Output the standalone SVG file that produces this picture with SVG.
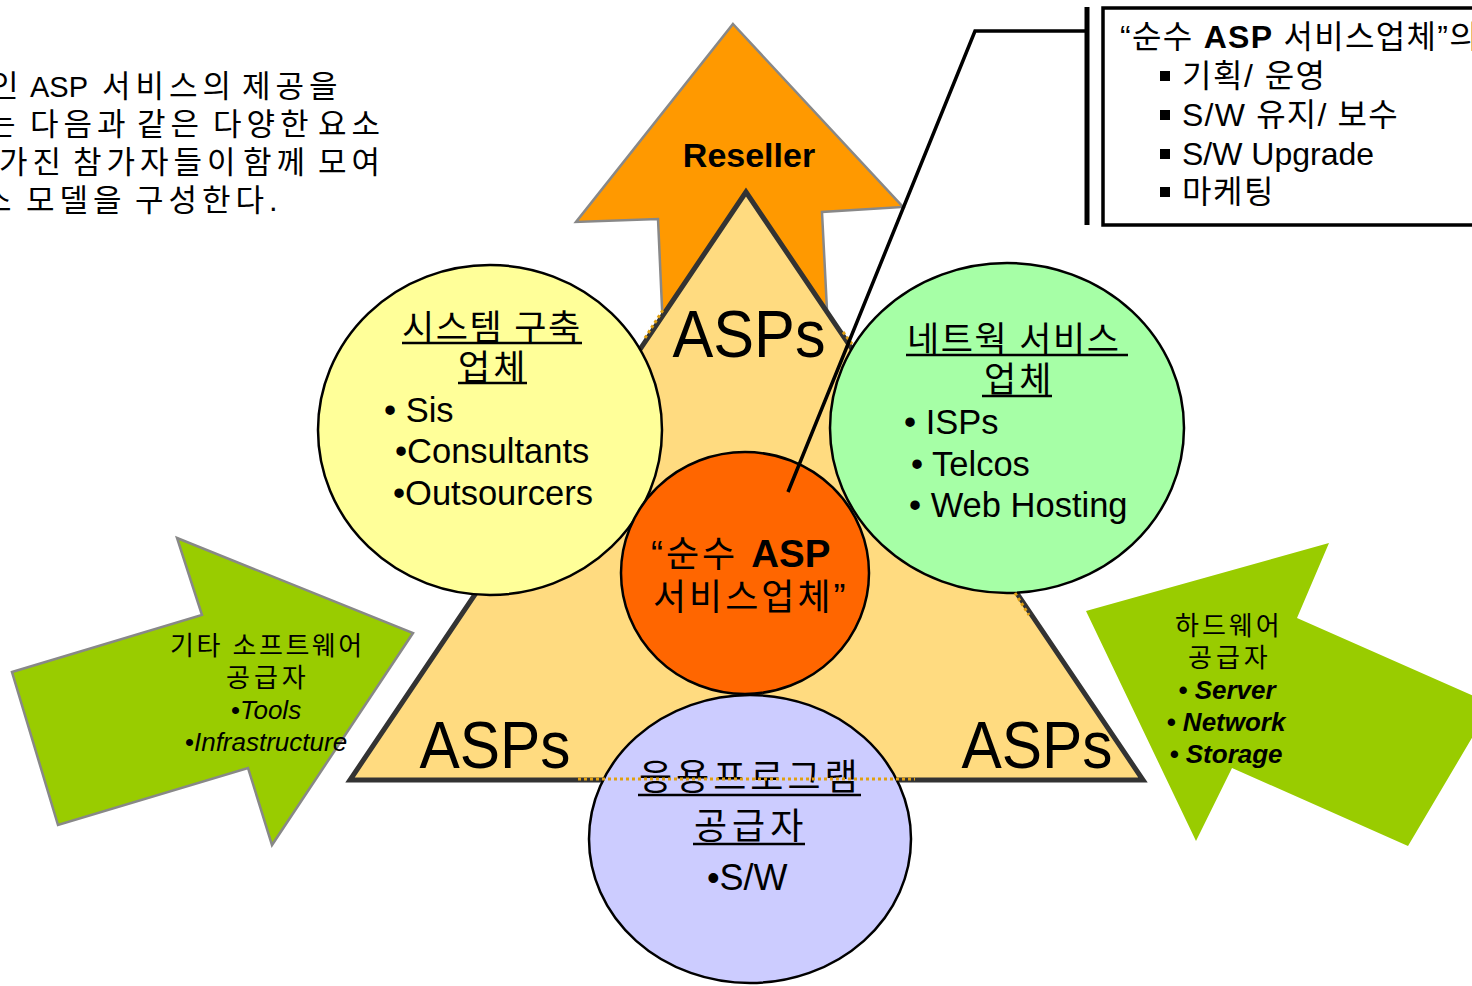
<svg xmlns="http://www.w3.org/2000/svg" width="1472" height="986" viewBox="0 0 1472 986">
<defs>
<style>
.k{font-family:"Liberation Sans","Noto Sans CJK KR",sans-serif;fill:#000}
.h{font-size:31px;letter-spacing:5px}
.circ{stroke:#000;stroke-width:2.5}
.garrow{fill:#99CC00}
.ul{stroke:#000;stroke-width:2.5}
.dot{fill:none;stroke:#E0A010;stroke-width:3;stroke-dasharray:3 3}
</style>
</defs>
<rect width="1472" height="986" fill="#fff"/>

<g id="intro-text" class="k" font-size="29" fill="#222">
<text y="97"><tspan class="h" x="-10">인</tspan><tspan x="30">ASP</tspan><tspan class="h" x="102">서비스의</tspan><tspan class="h" x="242">제공을</tspan></text>
<text y="135"><tspan class="h" x="-13">는</tspan><tspan class="h" x="30">다음과</tspan><tspan class="h" x="137">같은</tspan><tspan class="h" x="213">다양한</tspan><tspan class="h" x="318">요소</tspan></text>
<text y="173"><tspan class="h" x="-1">가진</tspan><tspan class="h" x="73">참가자들이</tspan><tspan class="h" x="243">함께</tspan><tspan class="h" x="318">모여</tspan></text>
<text y="211"><tspan class="h" x="-17">스</tspan><tspan class="h" x="26">모델을</tspan><tspan class="h" x="135">구성한다.</tspan></text>
</g>

<g id="reseller">
<polygon points="733,24 903,207 822,212 828,330 663,330 658,219 576,222" fill="#FF9900" stroke="#888" stroke-width="2.5" stroke-linejoin="miter"/>
<text class="k" x="749" y="167" font-size="34" font-weight="bold" text-anchor="middle">Reseller</text>
</g>

<g id="left-arrow">
<polygon class="garrow" points="12,672 202,615 177,538 413,633 272,845 248,768 58,825" stroke="#888" stroke-width="2.5"/>
<g class="k" font-size="26">
<text x="170" y="655" letter-spacing="2.5">기타 소프트웨어</text>
<text x="226" y="687" letter-spacing="4">공급자</text>
<text x="266" y="719" font-style="italic" text-anchor="middle">•Tools</text>
<text x="266" y="751" font-style="italic" text-anchor="middle">•Infrastructure</text>
</g>
</g>

<g id="right-arrow">
<polygon class="garrow" points="1086,611 1329,543 1297,618 1492,704 1408,846 1232,768 1196,841"/>
<g class="k" font-size="26">
<text x="1175" y="635" letter-spacing="3">하드웨어</text>
<text x="1188" y="667" letter-spacing="4">공급자</text>
<text x="1227" y="699" font-weight="bold" font-style="italic" text-anchor="middle">• Server</text>
<text x="1226" y="731" font-weight="bold" font-style="italic" text-anchor="middle">• Network</text>
<text x="1226" y="763" font-weight="bold" font-style="italic" text-anchor="middle">• Storage</text>
</g>
</g>

<g id="triangle">
<polygon points="746,192 350,780 1143,780" fill="#FFDB80" stroke="#333" stroke-width="5" stroke-linejoin="miter"/>
<g class="k" font-size="66">
<text x="749" y="357" text-anchor="middle" textLength="153" lengthAdjust="spacingAndGlyphs">ASPs</text>
<text x="495" y="768" text-anchor="middle" textLength="151" lengthAdjust="spacingAndGlyphs">ASPs</text>
<text x="1037" y="768" text-anchor="middle" textLength="151" lengthAdjust="spacingAndGlyphs">ASPs</text>
</g>
</g>

<g id="system-builders">
<ellipse class="circ" cx="490" cy="430" rx="172" ry="165" fill="#FFFF99"/>
<g class="k" font-size="35">
<text x="402" y="340" letter-spacing="1.5">시스템 구축</text>
<text x="458" y="380" letter-spacing="3">업체</text>
<line class="ul" x1="402" y1="343" x2="582" y2="343"/>
<line class="ul" x1="458" y1="383" x2="527" y2="383"/>
<text x="384" y="422" font-size="34.5">• Sis</text>
<text x="395" y="463" font-size="34.5">•Consultants</text>
<text x="393" y="505" font-size="34.5">•Outsourcers</text>
</g>
</g>

<g id="network-services">
<ellipse class="circ" cx="1007" cy="428" rx="177" ry="165" fill="#A6FFA6"/>
<g class="k" font-size="35">
<text x="907" y="352" letter-spacing="1.5">네트웍 서비스</text>
<text x="984" y="392" letter-spacing="3">업체</text>
<line class="ul" x1="906" y1="355" x2="1128" y2="355"/>
<line class="ul" x1="982" y1="396" x2="1052" y2="396"/>
<text x="904" y="434" font-size="34.5">• ISPs</text>
<text x="911" y="476" font-size="34.5">• Telcos</text>
<text x="909" y="517" font-size="34.5">• Web Hosting</text>
</g>
</g>

<g id="app-providers">
<ellipse class="circ" cx="750" cy="839" rx="161" ry="144" fill="#CCCCFF"/>
<g class="k" font-size="36">
<text x="639" y="790" letter-spacing="4">응용프로그램</text>
<text x="694" y="839" letter-spacing="5">공급자</text>
<line class="ul" x1="638" y1="795" x2="861" y2="795"/>
<line class="ul" x1="693" y1="844" x2="805" y2="844"/>
<text x="707" y="890">•S/W</text>
</g>
</g>

<g id="dotted-edges">
<line class="dot" x1="578" y1="779" x2="915" y2="779"/>
<line class="dot" x1="645" y1="338" x2="663" y2="310"/>
<line class="dot" x1="843" y1="332" x2="852" y2="344"/>
<line class="dot" x1="1015" y1="593" x2="1029" y2="615"/>
</g>

<g id="pure-asp">
<ellipse class="circ" cx="745" cy="573" rx="124" ry="121" fill="#FF6600"/>
<g class="k" font-size="36">
<text x="651" y="567"><tspan letter-spacing="3">“순수 </tspan><tspan font-weight="bold" font-size="38.5">ASP</tspan></text>
<text x="653" y="610" letter-spacing="3">서비스업체”</text>
</g>
</g>

<g id="connectors">
<polyline points="788,492 975,31 1087,31" fill="none" stroke="#000" stroke-width="3.5" stroke-linejoin="miter"/>
<line x1="1087" y1="7" x2="1087" y2="225" stroke="#000" stroke-width="5"/>
</g>

<g id="callout">
<rect x="1103" y="8" width="380" height="217" fill="#fff" stroke="#000" stroke-width="3.5"/>
<g class="k" font-size="32">
<text x="1120" y="48" letter-spacing="1.3">“순수 <tspan font-weight="bold">ASP</tspan> 서비스업체”의</text>
<rect x="1160" y="71" width="10" height="10"/>
<rect x="1160" y="110" width="10" height="10"/>
<rect x="1160" y="149" width="10" height="10"/>
<rect x="1160" y="187" width="10" height="10"/>
<text x="1182" y="87" letter-spacing="1.5">기획/ 운영</text>
<text x="1182" y="126" letter-spacing="1.2">S/W 유지/ 보수</text>
<text x="1182" y="165">S/W Upgrade</text>
<text x="1182" y="203" letter-spacing="1.5">마케팅</text>
</g>
</g>
</svg>
